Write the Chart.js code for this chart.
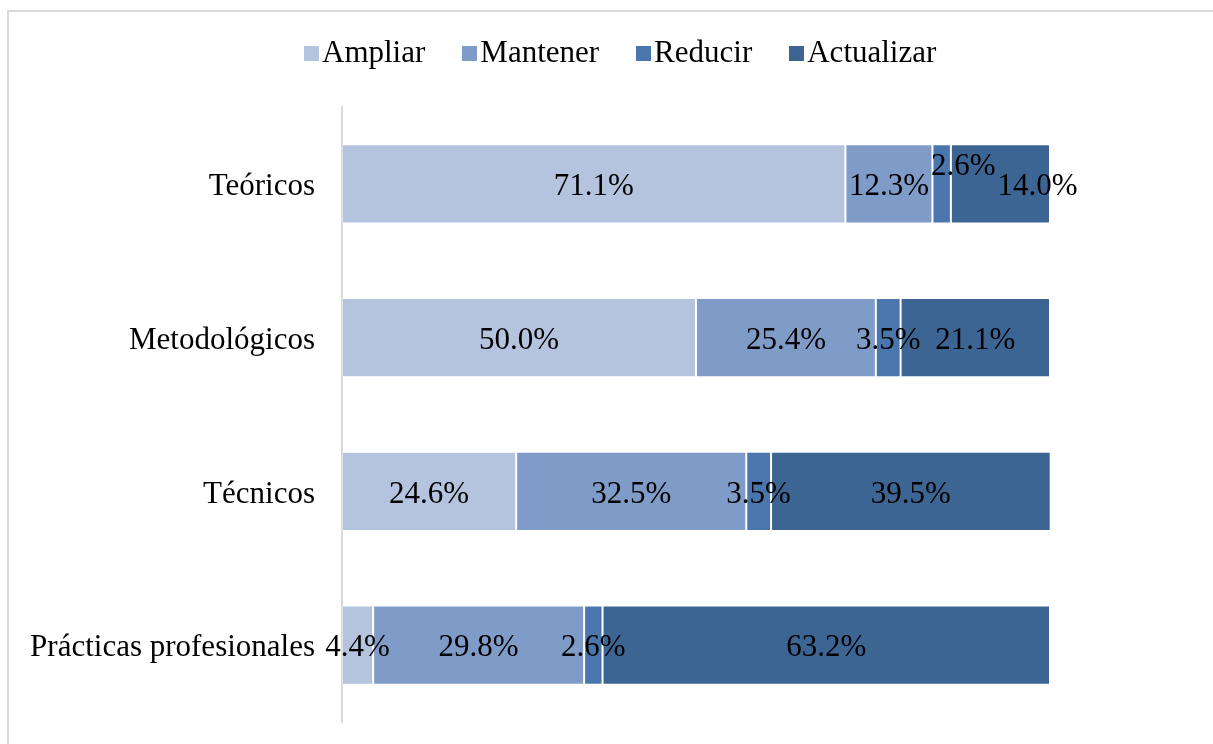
<!DOCTYPE html>
<html>
<head>
<meta charset="utf-8">
<script src="https://cdn.jsdelivr.net/npm/chart.js@4.4.0/dist/chart.umd.min.js"></script>
<style>
    html, body { margin: 0; padding: 0; background: #fff; overflow: hidden; }
    #wrap { position: relative; width: 1213px; height: 744px; }
    #frame { position: absolute; left: 7px; top: 10px; width: 1240px; height: 780px; border: 2px solid #d9d9d9; box-sizing: border-box; }
    #legend { position: absolute; left: 304px; top: 34px; display: flex; align-items: center; font: 31px "Liberation Serif", serif; line-height: 35px; color: #000; }
    .item { display: flex; align-items: center; margin-right: 37px; }
    .box { width: 15px; height: 15px; margin-right: 3px; position: relative; top: 2px; }
    canvas { position: absolute; left: 0; top: 0; }
</style>
</head>
<body>
<div id="wrap">
    <div id="frame"></div>
    <canvas id="barChart" width="1213" height="744"></canvas>
    <div id="legend"></div>
</div>
<script>
const categories = ['Teóricos', 'Metodológicos', 'Técnicos', 'Prácticas profesionales'];
const seriesNames = ['Ampliar', 'Mantener', 'Reducir', 'Actualizar'];
const ampliar = [71.1, 50.0, 24.6, 4.4];
const mantener = [12.3, 25.4, 32.5, 29.8];
const reducir = [2.6, 3.5, 3.5, 2.6];
const actualizar = [14.0, 21.1, 39.5, 63.2];
const seriesColors = ['#b4c3de', '#7f9bc8', '#4a76ad', '#3d6594'];

const FONT = '"Liberation Serif", serif';

// Percent labels centred in each segment; a label that would collide with the
// one before it is pushed right, alternating a lift so they stay readable.
const segmentLabels = {
    id: 'segmentLabels',
    afterDatasetsDraw(chart) {
        const ctx = chart.ctx;
        ctx.save();
        ctx.font = '31px ' + FONT;
        ctx.fillStyle = '#000';
        ctx.textAlign = 'center';
        ctx.textBaseline = 'middle';
        categories.forEach((cat, i) => {
            let prevRight = -Infinity;
            let lifted = false;
            chart.data.datasets.forEach((ds, d) => {
                const bar = chart.getDatasetMeta(d).data[i];
                const text = ds.data[i].toFixed(1) + '%';
                const w = ctx.measureText(text).width;
                let x = (bar.base + bar.x) / 2;
                let y = bar.y + 3;
                if (x - w / 2 < prevRight) {
                    x = prevRight + 2 + w / 2;
                    lifted = !lifted;
                    if (lifted) y -= 20;
                } else {
                    lifted = false;
                }
                ctx.fillText(text, x, y);
                prevRight = x + w / 2;
            });
        });
        ctx.restore();
    }
};

const values = [ampliar, mantener, reducir, actualizar];

const barCtx = document.getElementById('barChart').getContext('2d');
new Chart(barCtx, {
    type: 'bar',
    data: {
        labels: categories,
        datasets: seriesNames.map((name, k) => ({
            label: name,
            data: values[k],
            backgroundColor: seriesColors[k],
            borderColor: 'rgba(255, 255, 255, 0.25)',
            borderWidth: 1,
            borderSkipped: false,
            barPercentage: 0.514,
            categoryPercentage: 1.0,
        }))
    },
    options: {
        indexAxis: 'y',
        responsive: false,
        animation: false,
        layout: {
            padding: { left: 0, top: 107, right: 163, bottom: 22 }
        },
        plugins: {
            legend: { display: false },
            tooltip: { enabled: false },
        },
        scales: {
            x: {
                stacked: true,
                display: false,
                min: 0,
                max: 100,
            },
            y: {
                stacked: true,
                afterFit(scale) {
                    scale.width = 342;
                    scale.paddingTop = 0;
                    scale.paddingBottom = 0;
                },
                grid: { display: false, drawTicks: false },
                border: { display: true, color: '#d9d9d9', width: 2 },
                ticks: {
                    padding: 27,
                    labelOffset: 3,
                    color: '#000',
                    font: { family: FONT, size: 31 },
                },
            }
        }
    },
    plugins: [segmentLabels]
});

// Legend in the page, built from the same series names and colours
const legendEl = document.getElementById('legend');
seriesNames.forEach((name, k) => {
    const item = document.createElement('div');
    item.className = 'item';
    const box = document.createElement('span');
    box.className = 'box';
    box.style.background = seriesColors[k];
    const label = document.createElement('span');
    label.textContent = name;
    item.appendChild(box);
    item.appendChild(label);
    legendEl.appendChild(item);
});
</script>
</body>
</html>
